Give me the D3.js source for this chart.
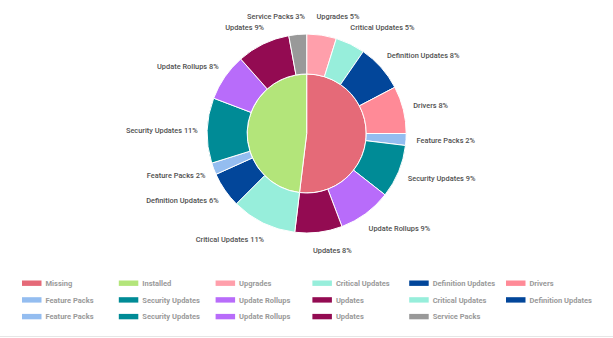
<!DOCTYPE html>
<html>
<head>
<meta charset="utf-8">
<script src="https://cdn.jsdelivr.net/npm/d3@7"></script>
<style>
  html, body { margin: 0; padding: 0; background: #fff; }
  svg { display: block; }
</style>
</head>
<body>
<svg id="chart" width="613" height="338"></svg>
<script>
// Patch status: inner ring = Missing / Installed, outer ring = update classes within each
const groups = ["Missing", "Installed"];
const groupColors = ["#e56a78", "#b3e57a"];

const missingCategories = ["Upgrades", "Critical Updates", "Definition Updates", "Drivers",
  "Feature Packs", "Security Updates", "Update Rollups", "Updates"];
const missingValues = [5, 5, 8, 8, 2, 9, 9, 8];

const installedCategories = ["Critical Updates", "Definition Updates", "Feature Packs",
  "Security Updates", "Update Rollups", "Updates", "Service Packs"];
const installedValues = [11, 6, 2, 11, 8, 9, 3];

const categoryColors = {
  "Upgrades": "#ff9fab",
  "Critical Updates": "#97eedb",
  "Definition Updates": "#02469a",
  "Drivers": "#ff8a97",
  "Feature Packs": "#94bdf0",
  "Security Updates": "#008b96",
  "Update Rollups": "#b86cfa",
  "Updates": "#930b52",
  "Service Packs": "#999999"
};

const outer = missingCategories.map((c, i) => ({ name: c, value: missingValues[i], group: 0 }))
  .concat(installedCategories.map((c, i) => ({ name: c, value: installedValues[i], group: 1 })));
const inner = groups.map((g, i) => ({
  name: g,
  value: d3.sum(outer.filter(d => d.group === i), d => d.value)
}));

const svg = d3.select("#chart");
const cx = 306.7, cy = 133.5;
const rInner = 59.5, rOuter = 99.5, rLabel = 118;

const pie = d3.pie().sort(null).value(d => d.value);
const g = svg.append("g").attr("transform", `translate(${cx},${cy})`);

const innerArc = d3.arc().innerRadius(0).outerRadius(rInner);
const outerArc = d3.arc().innerRadius(rInner).outerRadius(rOuter);

g.selectAll("path.inner")
  .data(pie(inner))
  .join("path")
  .attr("class", "inner")
  .attr("d", innerArc)
  .attr("fill", (d, i) => groupColors[i])
  .attr("stroke", "#fff")
  .attr("stroke-width", 1);

const outerArcs = pie(outer);
g.selectAll("path.outer")
  .data(outerArcs)
  .join("path")
  .attr("class", "outer")
  .attr("d", outerArc)
  .attr("fill", d => categoryColors[d.data.name])
  .attr("stroke", "#fff")
  .attr("stroke-width", 1);

// Data labels around the ring
g.selectAll("text.lbl")
  .data(outerArcs)
  .join("text")
  .attr("class", "lbl")
  .each(function (d) {
    const a = (d.startAngle + d.endAngle) / 2;
    const right = Math.sin(a) >= 0;
    const x = rLabel * Math.sin(a) + (right ? -8 : 9);
    const y = -rLabel * Math.cos(a);
    d3.select(this)
      .attr("x", x)
      .attr("y", y)
      .attr("dy", "0.35em")
      .attr("text-anchor", right ? "start" : "end");
  })
  .attr("font-family", "Roboto, sans-serif")
  .attr("font-size", 7.4)
  .attr("font-weight", 500)
  .attr("fill", "#4f4f4f")
  .text(d => `${d.data.name} ${d.data.value}%`);

// Legend
const legendItems = inner.map((d, i) => ({ name: d.name, color: groupColors[i] }))
  .concat(outer.map(d => ({ name: d.name, color: categoryColors[d.name] })));

const legend = svg.append("g");
const colW = 96.8, rowH = 16.7, lx0 = 22, ly0 = 283.2;
const item = legend.selectAll("g")
  .data(legendItems)
  .join("g")
  .attr("transform", (d, i) => `translate(${lx0 + (i % 6) * colW},${ly0 + Math.floor(i / 6) * rowH})`);
item.append("rect")
  .attr("x", 0).attr("y", -2.7)
  .attr("width", 19.5).attr("height", 5.4)
  .attr("fill", d => d.color);
item.append("text")
  .attr("x", 23.5).attr("y", 0).attr("dy", "0.35em")
  .attr("font-family", "Roboto, sans-serif")
  .attr("font-size", 7.5)
  .attr("font-weight", 700)
  .attr("fill", "#9a9a9a")
  .text(d => d.name);

// Bottom rule
svg.append("line")
  .attr("x1", 0).attr("x2", 613)
  .attr("y1", 336.5).attr("y2", 336.5)
  .attr("stroke", "#e6e6e6")
  .attr("stroke-width", 1);
</script>
</body>
</html>
